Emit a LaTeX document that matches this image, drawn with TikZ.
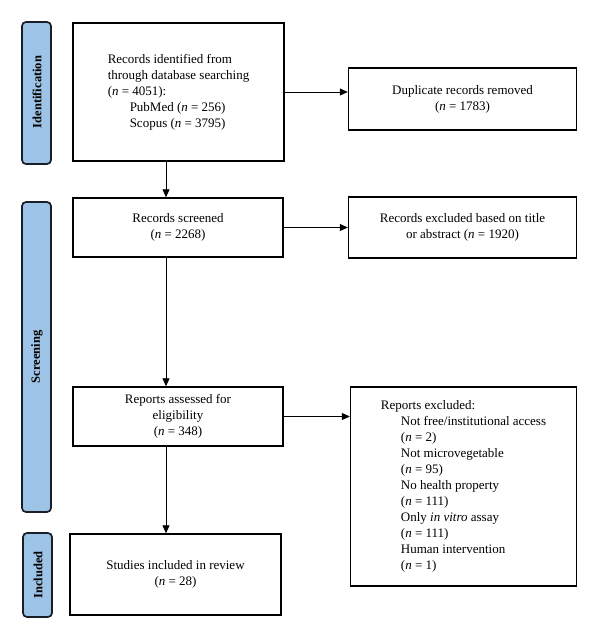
\documentclass[tikz,border=0pt]{standalone}
\usepackage{fontspec}
\setmainfont{Liberation Serif}
\usetikzlibrary{arrows.meta,calc}
\definecolor{labblue}{RGB}{157,195,230}
\definecolor{labedge}{RGB}{25,30,40}
\newcommand{\nn}{\textit{n}}
\begin{document}
\begin{tikzpicture}[x=1pt,y=-1pt,
  box/.style={draw=black,line width=1.4pt,inner sep=0pt,align=center,font=\fontsize{13}{16}\selectfont},
  phase/.style={draw=labedge,fill=labblue,line width=1.7pt,rounded corners=4pt,inner sep=0pt},
  phasetext/.style={rotate=90,font=\fontsize{12.5}{14}\selectfont\bfseries},
  arr/.style={line width=0.8pt,-{Triangle[length=8pt,width=7pt]}}]
\useasboundingbox (0,0) rectangle (600,640);
% phase labels
\draw[phase] (22,22) rectangle (51,164);
\node[phasetext] (lid) at (37,92) {Identification};
\draw[phase] (22,202) rectangle (51,512);
\node[phasetext] (lsc) at (37,357) {Screening};
\draw[phase] (23,533) rectangle (52,617);
\node[phasetext] (lin) at (38,575) {Included};
% boxes
\node[box,minimum width=211pt,minimum height=138pt,align=left] (id) at (178.5,92)
  {Records identified from\\through database searching\\(\nn{} = 4051):\\\hspace*{22pt}PubMed (\nn{} = 256)\\\hspace*{22pt}Scopus (\nn{} = 3795)};
\node[box,minimum width=228pt,minimum height=62pt] (dup) at (462.5,99)
  {Duplicate records removed\\(\nn{} = 1783)};
\node[box,minimum width=210pt,minimum height=59pt] (scr) at (178,227.5)
  {Records screened\\(\nn{} = 2268)};
\node[box,minimum width=228pt,minimum height=61pt] (exc) at (462.5,227.5)
  {Records excluded based on title\\or abstract (\nn{} = 1920)};
\node[box,minimum width=210pt,minimum height=59pt] (rep) at (178,416.5)
  {Reports assessed for\\eligibility\\(\nn{} = 348)};
\node[box,minimum width=226pt,minimum height=199pt,align=left] (rex) at (463.5,486.5)
  {Reports excluded:\\
   \hspace*{20pt}Not free/institutional access\\
   \hspace*{20pt}(\nn{} = 2)\\
   \hspace*{20pt}Not microvegetable\\
   \hspace*{20pt}(\nn{} = 95)\\
   \hspace*{20pt}No health property\\
   \hspace*{20pt}(\nn{} = 111)\\
   \hspace*{20pt}Only \textit{in vitro} assay\\
   \hspace*{20pt}(\nn{} = 111)\\
   \hspace*{20pt}Human intervention\\
   \hspace*{20pt}(\nn{} = 1)};
\node[box,minimum width=211pt,minimum height=81pt] (inc) at (175.5,574.5)
  {Studies included in review\\(\nn{} = 28)};
% connectors
\coordinate (a1) at ($(id.south)+(-12.5,0)$);
\draw[arr] (a1) -- (a1 |- scr.north);
\coordinate (a2) at ($(scr.south)+(-12,0)$);
\draw[arr] (a2) -- (a2 |- rep.north);
\coordinate (a3) at ($(rep.south)+(-12,0)$);
\draw[arr] (a3) -- (a3 |- inc.north);
\draw[arr] (id.east) -- (id.east -| dup.west);
\draw[arr] (scr.east) -- (scr.east -| exc.west);
\draw[arr] (rep.east) -- (rep.east -| rex.west);
\end{tikzpicture}
\end{document}
